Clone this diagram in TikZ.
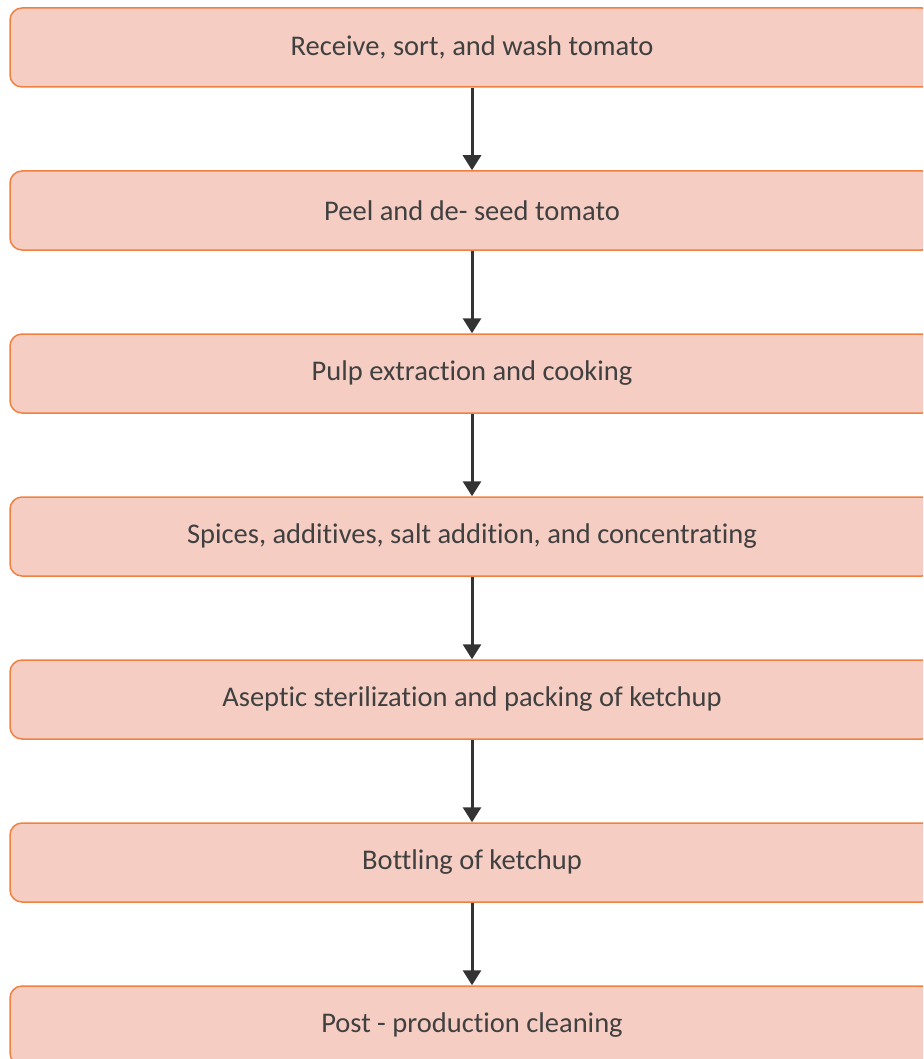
\documentclass[tikz,border=0pt]{standalone}
\usepackage{fontspec}
\setmainfont{Carlito}[Ligatures=NoCommon]
\usetikzlibrary{positioning,arrows.meta}
\definecolor{boxfill}{HTML}{F5CDC3}
\definecolor{boxline}{HTML}{F08140}
\definecolor{arrowgray}{HTML}{333333}
\definecolor{textgray}{HTML}{404040}
\tikzset{
  stepbox/.style={draw=boxline, fill=boxfill, line width=1.5pt, rounded corners=12pt,
    minimum width=924pt, minimum height=79pt, inner sep=0pt,
    font=\fontsize{28.5}{32}\selectfont, text=textgray},
  flow/.style={draw=arrowgray, line width=3pt, -{Triangle[length=15pt,width=18pt]}}
}
\begin{document}
\begin{tikzpicture}[x=1pt, y=1pt, node distance=82.5pt]

    \useasboundingbox (0,0) rectangle (923,-1059);
    \clip (0,0) rectangle (923,-1059);

    % process steps
    \node[stepbox] (wash) at (472,-47.5) {Receive, sort, and wash tomato};
    \node[stepbox, below=of wash] (peel) {Peel and de- seed tomato};
    \node[stepbox, below=of peel] (pulp) {Pulp extraction and cooking};
    \node[stepbox, below=of pulp] (spice) {Spices, additives, salt addition, and concentrating};
    \node[stepbox, below=of spice] (steril) {Aseptic sterilization and packing of ketchup};
    \node[stepbox, below=of steril] (bottle) {Bottling of ketchup};
    \node[stepbox, below=of bottle] (clean) {Post - production cleaning};

    % arrows
    \draw[flow] (wash) -- (peel);
    \draw[flow] (peel) -- (pulp);
    \draw[flow] (pulp) -- (spice);
    \draw[flow] (spice) -- (steril);
    \draw[flow] (steril) -- (bottle);
    \draw[flow] (bottle) -- (clean);
\end{tikzpicture}
\end{document}
